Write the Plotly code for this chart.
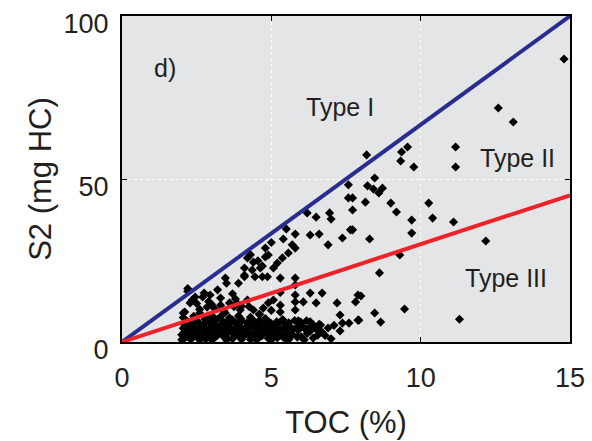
import plotly.graph_objects as go

# ---- data ----
toc_pct = [
    # sparse, right / high
    14.8, 12.6, 13.1, 11.17, 11.17, 11.1, 12.18, 11.3,
    8.19, 9.36, 9.56, 9.33, 9.77, 8.46, 8.22, 8.42, 8.6, 8.72, 8.15, 9.0, 9.19, 7.72, 7.72,
    9.7, 10.27, 10.4, 9.7, 7.72, 8.29, 9.3, 8.62, 8.0, 7.82, 9.46, 8.46, 7.93, 8.66,
    7.58, 7.58, 6.2, 6.5, 6.95, 7.0, 5.5, 6.3, 6.6, 7.65, 7.38, 6.9, 5.8, 5.4, 5.7, 5.8,
    5.57, 5.37, 5.2, 4.8, 4.9, 4.7, 5.07, 5.3, 5.8,
    4.2, 4.4, 4.1, 4.36, 4.63, 4.8, 4.7, 4.1, 3.46, 4.55, 4.3, 5.0,
    # middle, below the red line
    2.1, 2.45, 2.7, 2.95, 3.2, 3.3, 3.85, 3.96, 4.2, 2.85, 2.6, 3.05, 4.4, 2.28, 3.5, 3.9,
    4.73, 2.75, 2.35, 3.3, 3.6, 3.75, 2.05, 4.1, 4.45, 4.87, 2.2, 3.1,
    5.8, 5.8, 5.8, 5.8, 6.3, 6.7, 6.07, 6.5, 7.2, 7.9, 7.3, 7.38, 7.6, 7.9, 6.65, 6.55,
    5.87, 5.4, 5.07, 5.3, 4.9, 5.3, 5.3,
    2.5, 2.9, 3.4, 3.7, 4.0, 4.6, 2.2, 2.6, 3.0, 3.45, 3.8, 4.25, 4.6, 5.0,
    # dense band at the bottom
    2.1, 2.4, 2.8, 3.1, 3.4, 3.7, 4.0, 4.3, 4.6, 4.9, 5.2, 5.6, 6.0, 6.4, 7.0,
    2.0, 2.3, 2.6, 2.9, 3.2, 3.5, 3.8, 4.1, 4.4, 4.7, 5.0, 5.3, 5.7, 6.2, 6.8,
    2.15, 2.45, 2.75, 3.05, 3.35, 3.65, 3.95, 4.25, 4.55, 4.85, 5.15, 5.5, 5.9, 6.3, 6.7, 7.3,
    2.05, 2.35, 2.65, 2.95, 3.25, 3.55, 3.85, 4.15, 4.45, 4.75, 5.1, 5.45, 5.85, 6.2, 6.9,
    2.1, 2.4, 2.7, 3.0, 3.3, 3.6, 3.9, 4.2, 4.5, 4.8, 5.2, 5.6, 6.0, 6.4, 7.1,
    2.2, 2.5, 2.8, 3.1, 3.4, 3.7, 4.0, 4.3, 4.6, 4.9, 5.4, 5.9, 6.3,
    2.05, 2.4, 2.9, 3.3, 3.6, 3.9, 4.3, 4.8,
    2.25, 2.55, 2.85, 3.15, 3.45, 3.75, 4.05, 4.35, 4.65, 4.95, 5.25, 5.55,
    2.0, 2.3, 2.6, 3.0, 3.5, 4.0, 4.5, 5.0, 5.5, 6.1,
    2.12, 2.32, 2.52, 2.72, 2.92, 3.12, 3.32, 3.52, 3.72, 3.92, 4.12, 4.32, 4.52, 4.72, 4.92, 5.12,
    5.32, 5.52, 5.72, 5.92, 6.12, 6.32, 6.52,
    2.18, 2.38, 2.58, 2.78, 2.98, 3.18, 3.38, 3.58, 3.78, 3.98, 4.18, 4.38, 4.58, 4.78, 4.98,
    5.18, 5.38, 5.58, 5.78, 5.98, 6.18, 6.6,
    2.08, 2.28, 2.48, 2.68, 2.88, 3.08, 3.28, 3.48, 3.68, 3.88, 4.08, 4.28, 4.48, 4.68, 4.88, 5.08,
]
s2_mg_hc = [
    86.8, 71.8, 67.5, 59.8, 53.7, 36.8, 31.0, 7.0,
    57.4, 58.3, 59.8, 55.5, 53.7, 50.3, 47.9, 46.9, 45.7, 47.2, 42.9, 42.6, 39.9, 44.2, 40.5,
    37.4, 42.6, 38.0, 33.4, 34.4, 31.6, 26.7, 21.2, 14.1, 12.3, 10.1, 8.9, 6.7, 6.1,
    48.2, 44.2, 39.6, 38.3, 39.6, 37.7, 34.7, 32.8, 33.1, 34.4, 31.9, 29.8, 33.1, 31.6, 29.8, 28.8,
    27.3, 25.8, 24.2, 28.8, 26.7, 23.3, 22.7, 19.6, 19.6,
    25.8, 24.5, 22.7, 22.1, 22.7, 26.1, 20.0, 20.0, 19.6, 24.9, 26.8, 30.5,
    9.2, 13.8, 13.8, 14.4, 16.0, 13.5, 12.0, 9.8, 12.9, 10.7, 8.9, 7.7, 9.8, 12.0, 18.0, 18.0,
    10.4, 15.0, 12.9, 11.3, 12.0, 10.8, 8.9, 20.5, 20.0, 20.0, 15.6, 10.2,
    17.5, 14.4, 12.3, 9.8, 15.0, 15.0, 12.3, 12.0, 12.0, 14.4, 8.3, 5.8, 5.8, 6.7, 5.2, 2.1,
    1.5, 1.5, 12.9, 11.3, 12.0, 9.2, 15.2,
    11.8, 12.4, 9.6, 14.8, 11.0, 8.6, 16.4, 10.0, 11.6, 9.0, 13.2, 10.9, 8.4, 9.7,
    1.2, 1.6, 0.9, 1.3, 1.7, 1.0, 1.4, 0.8, 1.5, 1.1, 1.3, 0.9, 1.6, 1.2, 1.0,
    2.2, 2.6, 1.9, 2.4, 2.1, 2.7, 2.3, 2.0, 2.5, 2.2, 2.8, 2.1, 2.4, 2.6, 2.0,
    3.2, 3.5, 3.0, 3.4, 3.1, 3.6, 3.3, 3.0, 3.5, 3.2, 3.4, 3.1, 3.6, 3.3, 3.0, 3.4,
    4.2, 4.0, 4.5, 4.1, 4.4, 3.9, 4.3, 4.6, 4.0, 4.2, 4.5, 4.1, 4.4, 4.0, 4.3,
    5.2, 5.5, 5.0, 5.4, 5.1, 5.6, 5.3, 4.9, 5.4, 5.2, 5.5, 5.0, 5.6, 5.3, 5.1,
    6.3, 6.6, 6.1, 6.5, 6.2, 6.7, 6.4, 6.0, 6.6, 6.3, 6.1, 6.5, 6.2,
    7.5, 7.9, 7.3, 7.8, 7.4, 8.0, 7.6, 7.2,
    2.9, 1.8, 3.8, 4.8, 5.8, 2.5, 3.7, 5.7, 1.9, 4.7, 3.6, 2.7,
    0.7, 0.8, 0.6, 0.7, 0.6, 0.8, 0.7, 0.6, 0.8, 0.7,
    3.9, 4.7, 3.8, 4.9, 3.7, 4.8, 4.0, 4.6, 3.9, 4.8, 3.7, 4.9, 4.1, 4.7, 3.8, 4.6,
    4.0, 4.8, 3.9, 4.5, 4.1, 4.7, 3.8,
    5.9, 6.8, 5.8, 7.0, 6.0, 6.9, 5.7, 6.7, 6.1, 7.1, 5.9, 6.8, 6.0, 7.0, 5.8,
    6.2, 6.9, 5.9, 6.6, 6.1, 6.5, 5.4,
    2.9, 2.0, 3.1, 1.9, 2.8, 2.1, 3.0, 1.8, 2.9, 2.2, 3.1, 2.0, 2.7, 1.9, 3.0, 2.1,
]

# kerogen-type boundary lines
boundary_toc = [0, 15]
type1_boundary_s2 = [0, 100]
type3_boundary_s2 = [0, 45]

x_ticks = [0, 5, 10, 15]
y_ticks = [0, 50, 100]

fig = go.Figure()
fig.add_trace(go.Scatter(
    x=toc_pct, y=s2_mg_hc, mode="markers",
    marker=dict(symbol="diamond", size=7, color="black", line=dict(width=0)),
    showlegend=False, hoverinfo="x+y"))
fig.add_trace(go.Scatter(
    x=boundary_toc, y=type1_boundary_s2, mode="lines",
    line=dict(color="#2B2D8E", width=4), showlegend=False))
fig.add_trace(go.Scatter(
    x=boundary_toc, y=type3_boundary_s2, mode="lines",
    line=dict(color="#EE2229", width=4), showlegend=False))

font_fam = "Liberation Sans, Arial, sans-serif"
text_col = "#231F20"

ann = [
    dict(x=1.45, y=84, text="d)"),
    dict(x=7.3, y=72, text="Type I"),
    dict(x=13.25, y=56.5, text="Type II"),
    dict(x=12.85, y=19.5, text="Type III"),
]
annotations = [dict(xref="x", yref="y", showarrow=False,
                    font=dict(family=font_fam, size=25, color=text_col), **a) for a in ann]

fig.update_layout(
    width=592, height=441,
    margin=dict(l=122, r=22, t=16, b=99, autoexpand=False),
    paper_bgcolor="white", plot_bgcolor="#E4E5E7",
    font=dict(family=font_fam, color=text_col),
    annotations=annotations,
    showlegend=False,
)
fig.update_xaxes(
    range=[0, 15], tickvals=x_ticks, ticks="inside", ticklen=5, tickcolor="black",
    showline=True, linecolor="black", linewidth=2, mirror="ticks",
    showgrid=True, gridcolor="white", griddash="dot", gridwidth=1, zeroline=False,
    tickfont=dict(size=27, color=text_col), ticklabelstandoff=11, automargin=False,
    ticklabeloverflow="allow",
    title=dict(text="TOC (%)", font=dict(size=31, color=text_col), standoff=19),
)
fig.update_yaxes(
    range=[0, 100], tickvals=y_ticks, ticks="inside", ticklen=5, tickcolor="black",
    showline=True, linecolor="black", linewidth=2, mirror="ticks",
    showgrid=True, gridcolor="white", griddash="dot", gridwidth=1, zeroline=False,
    tickfont=dict(size=27, color=text_col), ticklabelshift=8, ticklabelstandoff=6,
    automargin=False, ticklabeloverflow="allow",
    title=dict(text="S2 (mg HC)", font=dict(size=31, color=text_col), standoff=3),
)

fig.write_html(
    "out.html",
    config={"displayModeBar": False},
    post_script="document.body.style.margin='0';document.body.style.overflow='hidden';",
)
